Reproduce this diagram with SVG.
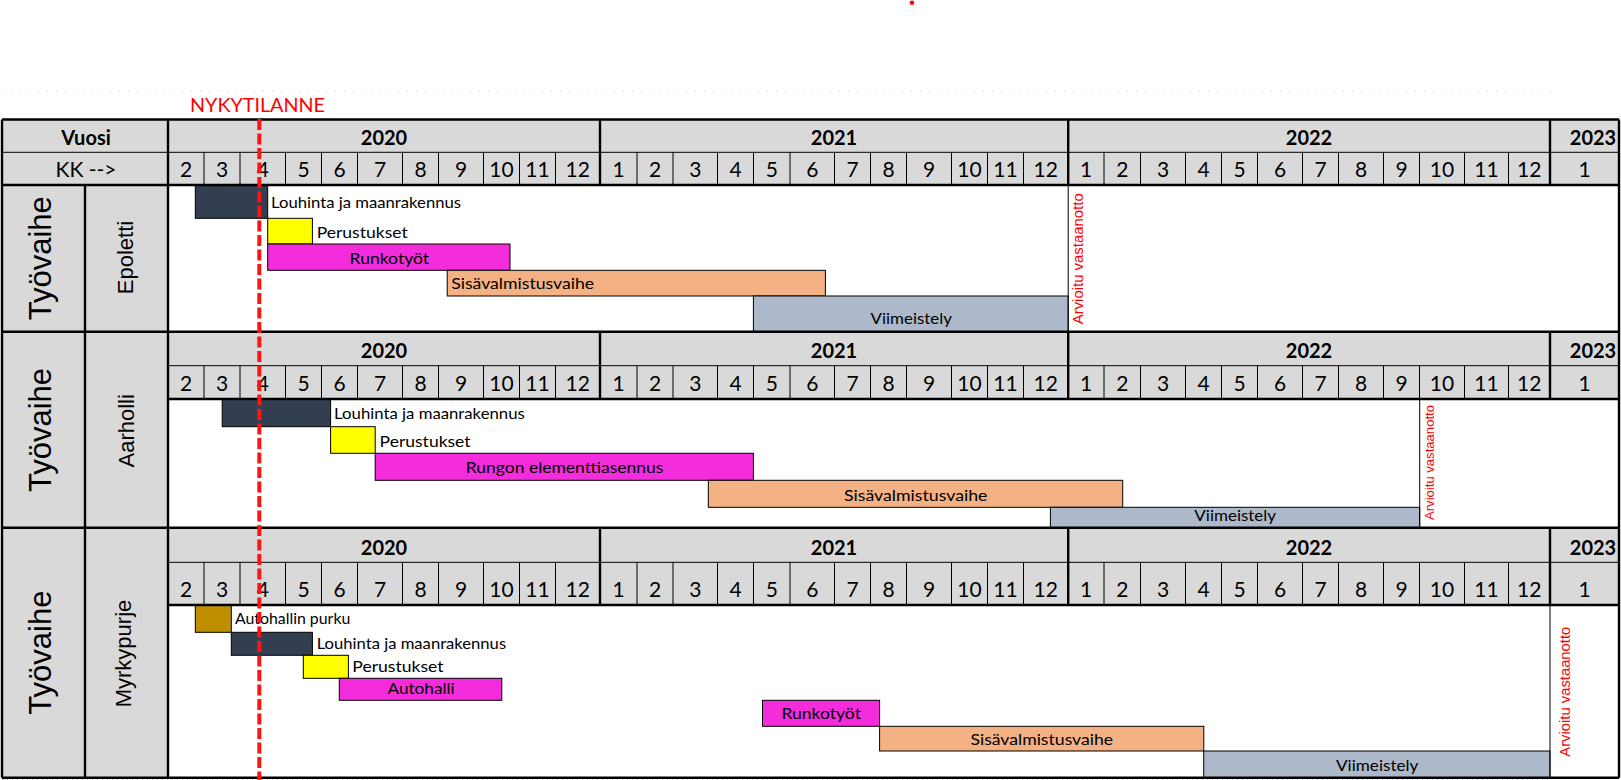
<svg xmlns="http://www.w3.org/2000/svg" xmlns:xlink="http://www.w3.org/1999/xlink" width="1621" height="780" viewBox="0 0 1621 780">
<style>
.hdr{fill:#d9d9d9}
.body{fill:#fff}
.thick{stroke:#000;stroke-width:2.4;fill:none}
.thin{stroke:#000;stroke-width:1;fill:none}
.yr{font-family:Lato,"Liberation Sans",sans-serif;font-weight:700;font-size:20px;text-anchor:middle;fill:#000}
.mo{font-family:Lato,"Liberation Sans",sans-serif;font-size:21px;text-anchor:middle;fill:#000}
.lab{font-family:Lato,"Liberation Sans",sans-serif;font-size:21px;text-anchor:middle;fill:#000}
.lbl{font-family:Lato,"Liberation Sans",sans-serif;font-size:16px;fill:#000}
.mid{text-anchor:middle}
.bar{stroke:#000;stroke-width:1}
.dk{fill:#333f50}.ye{fill:#ffff00}.mg{fill:#f42ddc}.or{fill:#f4b183}.bg{fill:#adb9ca}.gd{fill:#bf8f00}
.tv{font-family:"Liberation Sans",Arial,sans-serif;font-size:31px;text-anchor:middle;fill:#000}
.nm{font-family:"Liberation Sans",Arial,sans-serif;font-size:22px;text-anchor:middle;fill:#000}
.av{font-family:"Liberation Sans",Arial,sans-serif;fill:#ff0000}
</style>
<defs>
<g id="years">
<text class="yr" x="384" y="0">2020</text>
<text class="yr" x="834" y="0">2021</text>
<text class="yr" x="1309" y="0">2022</text>
<text class="yr" x="1593" y="0">2023</text>
</g>
<g id="months">
<text class="mo" x="186" y="0">2</text>
<text class="mo" x="222" y="0">3</text>
<text class="mo" x="262.8" y="0">4</text>
<text class="mo" x="303.5" y="0">5</text>
<text class="mo" x="339.5" y="0">6</text>
<text class="mo" x="380" y="0">7</text>
<text class="mo" x="420.5" y="0">8</text>
<text class="mo" x="461" y="0">9</text>
<text class="mo" x="501.5" y="0">10</text>
<text class="mo" x="537.5" y="0">11</text>
<text class="mo" x="577.8" y="0">12</text>
<text class="mo" x="618.5" y="0">1</text>
<text class="mo" x="655" y="0">2</text>
<text class="mo" x="695.3" y="0">3</text>
<text class="mo" x="735.5" y="0">4</text>
<text class="mo" x="771.8" y="0">5</text>
<text class="mo" x="812.3" y="0">6</text>
<text class="mo" x="852.5" y="0">7</text>
<text class="mo" x="888.5" y="0">8</text>
<text class="mo" x="929" y="0">9</text>
<text class="mo" x="969.5" y="0">10</text>
<text class="mo" x="1005.5" y="0">11</text>
<text class="mo" x="1045.8" y="0">12</text>
<text class="mo" x="1086" y="0">1</text>
<text class="mo" x="1122.3" y="0">2</text>
<text class="mo" x="1163" y="0">3</text>
<text class="mo" x="1203.5" y="0">4</text>
<text class="mo" x="1239.5" y="0">5</text>
<text class="mo" x="1280" y="0">6</text>
<text class="mo" x="1320.5" y="0">7</text>
<text class="mo" x="1361" y="0">8</text>
<text class="mo" x="1401.5" y="0">9</text>
<text class="mo" x="1442" y="0">10</text>
<text class="mo" x="1486.5" y="0">11</text>
<text class="mo" x="1529.3" y="0">12</text>
<text class="mo" x="1584.5" y="0">1</text>
</g>
</defs>

<line x1="2" y1="91" x2="1552" y2="91" stroke="#bdbdbd" stroke-width="1" stroke-dasharray="1 8"/>
<circle cx="912" cy="2.7" r="2.2" fill="#ff0000"/>
<text x="190" y="112" font-family="Lato,'Liberation Sans',sans-serif" font-size="20" fill="#ff0000" textLength="135" lengthAdjust="spacingAndGlyphs">NYKYTILANNE</text>

<!-- Epoletti -->
<g id="epoletti">
<rect class="hdr" x="2" y="119.5" width="1617" height="65.5"/>
<rect class="hdr" x="2" y="185" width="166" height="146.7"/>
<rect class="body" x="168" y="185" width="1451" height="146.7"/>
<text class="yr" x="86" y="145" font-size="21">Vuosi</text>
<text class="lab" x="86" y="176.7">KK --&gt;</text>
<use xlink:href="#years" transform="translate(0,145)"/>
<use xlink:href="#months" transform="translate(0,176.7)"/>
<text class="tv" transform="translate(50.5,258.3) rotate(-90)">Työvaihe</text>
<text class="nm" transform="translate(133,257.5) rotate(-90)">Epoletti</text>
<rect class="bar dk" x="195.3" y="185" width="72.4" height="33.3"/>
<rect class="bar ye" x="267.7" y="218.3" width="44.7" height="25.7"/>
<rect class="bar mg" x="267.7" y="244" width="242.3" height="26.3"/>
<rect class="bar or" x="447.2" y="270.3" width="378.2" height="25.7"/>
<rect class="bar bg" x="753.4" y="296" width="314.8" height="35.7"/>
<text class="lbl" x="271" y="207.7" textLength="190" lengthAdjust="spacingAndGlyphs">Louhinta ja maanrakennus</text>
<text class="lbl" x="316.7" y="238.3" textLength="91" lengthAdjust="spacingAndGlyphs">Perustukset</text>
<text class="lbl mid" x="389.3" y="264.3" textLength="79.5" lengthAdjust="spacingAndGlyphs">Runkotyöt</text>
<text class="lbl" x="451.2" y="289.3" textLength="143" lengthAdjust="spacingAndGlyphs">Sisävalmistusvaihe</text>
<text class="lbl mid" x="911.2" y="324.3" textLength="81.4" lengthAdjust="spacingAndGlyphs">Viimeistely</text>
<text class="av" font-size="14" transform="translate(1083.2,324.3) rotate(-90)" textLength="131" lengthAdjust="spacingAndGlyphs">Arvioitu vastaanotto</text>
</g>

<!-- Aarholli -->
<g id="aarholli">
<rect class="hdr" x="2" y="331.7" width="1617" height="67.3"/>
<rect class="hdr" x="2" y="399" width="166" height="128.7"/>
<rect class="body" x="168" y="399" width="1451" height="128.7"/>
<use xlink:href="#years" transform="translate(0,357.7)"/>
<use xlink:href="#months" transform="translate(0,390.7)"/>
<text class="tv" transform="translate(50.5,430) rotate(-90)">Työvaihe</text>
<text class="nm" transform="translate(134,430.8) rotate(-90)">Aarholli</text>
<rect class="bar dk" x="222.2" y="399" width="108.4" height="27.7"/>
<rect class="bar ye" x="330.6" y="426.7" width="44.6" height="26.6"/>
<rect class="bar mg" x="375.2" y="453.3" width="378.2" height="27"/>
<rect class="bar or" x="708.3" y="480.3" width="414.4" height="27"/>
<rect class="bar bg" x="1050.4" y="507.3" width="369.3" height="20.4"/>
<text class="lbl" x="334.1" y="419" textLength="190.6" lengthAdjust="spacingAndGlyphs">Louhinta ja maanrakennus</text>
<text class="lbl" x="379.6" y="446.7" textLength="91" lengthAdjust="spacingAndGlyphs">Perustukset</text>
<text class="lbl mid" x="564.5" y="473.3" textLength="197.5" lengthAdjust="spacingAndGlyphs">Rungon elementtiasennus</text>
<text class="lbl mid" x="915.7" y="501" textLength="143.5" lengthAdjust="spacingAndGlyphs">Sisävalmistusvaihe</text>
<text class="lbl mid" x="1235.2" y="521" textLength="81.7" lengthAdjust="spacingAndGlyphs">Viimeistely</text>
<text class="av" font-size="13" transform="translate(1434.3,520) rotate(-90)" textLength="115" lengthAdjust="spacingAndGlyphs">Arvioitu vastaanotto</text>
</g>

<!-- Myrkypurje -->
<g id="myrkypurje">
<rect class="hdr" x="2" y="527.7" width="1617" height="77.3"/>
<rect class="hdr" x="2" y="605" width="166" height="172.7"/>
<rect class="body" x="168" y="605" width="1451" height="172.7"/>
<use xlink:href="#years" transform="translate(0,555)"/>
<use xlink:href="#months" transform="translate(0,596.7)"/>
<text class="tv" transform="translate(50.5,652.6) rotate(-90)">Työvaihe</text>
<text class="nm" font-size="23" transform="translate(131,653.5) rotate(-90)">Myrkypurje</text>
<rect class="bar gd" x="195.3" y="605" width="36" height="27.3"/>
<rect class="bar dk" x="231.3" y="632.3" width="81.1" height="23"/>
<rect class="bar ye" x="303.3" y="655.3" width="45.1" height="23"/>
<rect class="bar mg" x="339.3" y="678.3" width="162.5" height="22"/>
<rect class="bar mg" x="762.5" y="700.3" width="117.1" height="26"/>
<rect class="bar or" x="879.6" y="726.3" width="324.2" height="24.7"/>
<rect class="bar bg" x="1203.7" y="751" width="346.3" height="26.7"/>
<text class="lbl" x="234.9" y="624.3" textLength="115.4" lengthAdjust="spacingAndGlyphs">Autohallin purku</text>
<text class="lbl" x="316.7" y="649.3" textLength="189.4" lengthAdjust="spacingAndGlyphs">Louhinta ja maanrakennus</text>
<text class="lbl" x="352.3" y="671.7" textLength="91.3" lengthAdjust="spacingAndGlyphs">Perustukset</text>
<text class="lbl mid" x="421.1" y="694" textLength="67.2" lengthAdjust="spacingAndGlyphs">Autohalli</text>
<text class="lbl mid" x="821.2" y="719.3" textLength="79.5" lengthAdjust="spacingAndGlyphs">Runkotyöt</text>
<text class="lbl mid" x="1041.8" y="745.3" textLength="142.7" lengthAdjust="spacingAndGlyphs">Sisävalmistusvaihe</text>
<text class="lbl mid" x="1377.2" y="770.7" textLength="82.3" lengthAdjust="spacingAndGlyphs">Viimeistely</text>
<text class="av" font-size="14.8" transform="translate(1570,756.7) rotate(-90)" textLength="130" lengthAdjust="spacingAndGlyphs">Arvioitu vastaanotto</text>
</g>

<!-- grid lines (connectors) -->
<g id="connectors">
<path class="thin" d="M2 152.3H1619M168 365.7H1619M168 562.3H1619"/>
<path class="thin" d="M204 152.3V185M240 152.3V185M285.5 152.3V185M321.5 152.3V185M357.5 152.3V185M402.5 152.3V185M438.5 152.3V185M483.5 152.3V185M519.5 152.3V185M555.5 152.3V185M637 152.3V185M673 152.3V185M717.5 152.3V185M753.5 152.3V185M790 152.3V185M834.5 152.3V185M870.5 152.3V185M906.5 152.3V185M951.5 152.3V185M987.5 152.3V185M1023.5 152.3V185M1104 152.3V185M1140.5 152.3V185M1185.5 152.3V185M1221.5 152.3V185M1257.5 152.3V185M1302.5 152.3V185M1338.5 152.3V185M1383.5 152.3V185M1419.5 152.3V185M1464.5 152.3V185M1508.5 152.3V185"/>
<path class="thin" d="M204 365.7V399M240 365.7V399M285.5 365.7V399M321.5 365.7V399M357.5 365.7V399M402.5 365.7V399M438.5 365.7V399M483.5 365.7V399M519.5 365.7V399M555.5 365.7V399M637 365.7V399M673 365.7V399M717.5 365.7V399M753.5 365.7V399M790 365.7V399M834.5 365.7V399M870.5 365.7V399M906.5 365.7V399M951.5 365.7V399M987.5 365.7V399M1023.5 365.7V399M1104 365.7V399M1140.5 365.7V399M1185.5 365.7V399M1221.5 365.7V399M1257.5 365.7V399M1302.5 365.7V399M1338.5 365.7V399M1383.5 365.7V399M1419.5 365.7V399M1464.5 365.7V399M1508.5 365.7V399"/>
<path class="thin" d="M204 562.3V605M240 562.3V605M285.5 562.3V605M321.5 562.3V605M357.5 562.3V605M402.5 562.3V605M438.5 562.3V605M483.5 562.3V605M519.5 562.3V605M555.5 562.3V605M637 562.3V605M673 562.3V605M717.5 562.3V605M753.5 562.3V605M790 562.3V605M834.5 562.3V605M870.5 562.3V605M906.5 562.3V605M951.5 562.3V605M987.5 562.3V605M1023.5 562.3V605M1104 562.3V605M1140.5 562.3V605M1185.5 562.3V605M1221.5 562.3V605M1257.5 562.3V605M1302.5 562.3V605M1338.5 562.3V605M1383.5 562.3V605M1419.5 562.3V605M1464.5 562.3V605M1508.5 562.3V605"/>
<path class="thin" d="M1068.2 185V331.7M1419.7 399V527.7M1550 605V777.7"/>
<path class="thick" d="M2 119.5H1619M2 185H1619M2 331.7H1619M168 399H1619M2 527.7H1619M168 605H1619M2 777.7H1619"/>
<path class="thick" d="M2 119.5V777.7M1619 119.5V777.7M168 119.5V777.7M85 185V777.7"/>
<path class="thick" d="M600 119.5V185M1068.2 119.5V185M1550 119.5V185M600 331.7V399M1068.2 331.7V399M1550 331.7V399M600 527.7V605M1068.2 527.7V605M1550 527.7V605"/>
<line x1="2" y1="779.5" x2="1552" y2="779.5" stroke="#bdbdbd" stroke-width="1" stroke-dasharray="1 4"/>
<line x1="259.3" y1="119" x2="259.3" y2="780" stroke="#ff1414" stroke-width="4" stroke-dasharray="11 3.5"/>
</g>
</svg>
